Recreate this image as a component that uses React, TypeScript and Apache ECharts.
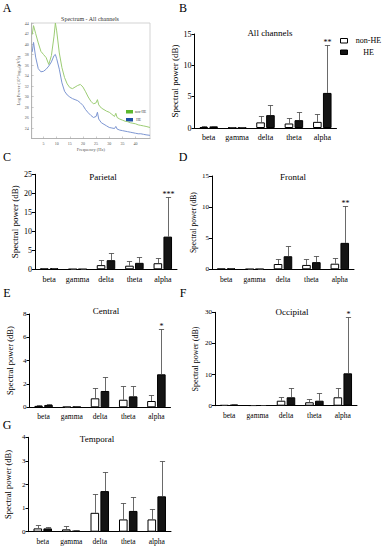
import React, { useEffect, useRef } from 'react';
import * as echarts from 'echarts';

const FONT = 'Liberation Serif, serif';

// ---------- Panel A: spectrum ----------
const freq = [0.7, 1.2, 2, 3, 4, 5, 6, 7, 8, 9, 9.5, 10, 11, 12, 13, 14, 15, 16, 17, 18, 19, 20, 21, 22, 23, 24, 25, 25.5, 26, 27, 28, 29, 30, 31, 32, 32.5, 33, 34, 35, 36, 37, 38, 39, 40, 41, 42, 43, 44, 45.5];
const specNonHE = [41.8, 43.5, 42.0, 40.2, 38.6, 38.0, 37.4, 36.1, 37.8, 41.5, 44.0, 42.5, 38.3, 35.5, 33.6, 32.4, 31.7, 31.5, 31.8, 32.1, 32.3, 31.8, 30.9, 29.9, 29.1, 28.6, 28.8, 29.4, 28.4, 27.8, 27.5, 27.2, 27.0, 26.6, 26.2, 26.8, 26.0, 25.7, 25.5, 25.3, 25.2, 25.0, 24.9, 24.8, 24.6, 24.5, 24.4, 24.3, 24.1];
const specHE = [38.5, 40.3, 37.5, 35.3, 34.7, 34.8, 35.2, 35.8, 36.6, 37.8, 38.0, 37.2, 35.2, 32.6, 31.0, 30.3, 29.9, 29.6, 29.4, 29.2, 28.8, 28.3, 27.5, 26.9, 26.4, 26.0, 26.2, 27.0, 25.7, 25.0, 24.7, 24.4, 24.1, 24.0, 23.9, 24.3, 23.8, 23.6, 23.5, 23.4, 23.3, 23.2, 23.1, 23.0, 22.9, 22.9, 22.8, 22.7, 22.6];
const freqTicks = [5, 10, 15, 20, 25, 30, 35, 40];

// ---------- Bar panels ----------
const bands = ['beta', 'gamma', 'delta', 'theta', 'alpha'];

const allNon = [0.15, 0.05, 0.9, 0.72, 0.98];
const allNonSd = [0.1, 0.03, 1.0, 0.9, 1.3];
const allHe = [0.25, 0.05, 2.05, 1.25, 5.6];
const allHeSd = [0.1, 0.03, 1.7, 1.25, 7.7];
const allStars = ['', '', '', '', '**'];

const parNon = [0.2, 0.05, 1.1, 0.95, 1.6];
const parNonSd = [0.1, 0.03, 1.3, 1.25, 1.5];
const parHe = [0.3, 0.05, 2.4, 1.7, 8.6];
const parHeSd = [0.1, 0.03, 1.8, 1.6, 10.3];
const parStars = ['', '', '', '', '***'];

const froNon = [0.1, 0.04, 0.85, 0.7, 0.9];
const froNonSd = [0.05, 0.02, 0.75, 0.9, 0.85];
const froHe = [0.15, 0.05, 2.1, 1.15, 4.25];
const froHeSd = [0.05, 0.02, 1.7, 1.0, 6.0];
const froStars = ['', '', '', '', '**'];

const cenNon = [0.12, 0.04, 0.77, 0.65, 0.54];
const cenNonSd = [0.06, 0.02, 0.91, 1.17, 0.5];
const cenHe = [0.2, 0.06, 1.4, 0.94, 2.83];
const cenHeSd = [0.1, 0.02, 1.2, 0.88, 3.85];
const cenStars = ['', '', '', '', '*'];

const occNon = [0.2, 0.1, 1.6, 1.1, 2.7];
const occNonSd = [0.1, 0.05, 1.3, 0.95, 2.9];
const occHe = [0.3, 0.12, 2.7, 1.6, 10.4];
const occHeSd = [0.15, 0.05, 2.9, 2.4, 18.2];
const occStars = ['', '', '', '', '*'];

const temNon = [0.14, 0.1, 0.8, 0.52, 0.52];
const temNonSd = [0.14, 0.14, 0.8, 0.71, 0.45];
const temHe = [0.14, 0.04, 1.72, 0.88, 1.5];
const temHeSd = [0.06, 0.02, 0.8, 0.58, 1.5];
const temStars = ['', '', '', '', ''];

type Panel = {
  title: string; non: number[]; nonSd: number[]; he: number[]; heSd: number[]; stars: string[];
  max: number; interval: number; left: number; top: number; width: number; height: number;
  titleX: number; titleY: number; nameGap: number; nameSize: number; tickSize: number; catSize: number; catMargin: number;
};

const panels: Panel[] = [
  { title: 'All channels', non: allNon, nonSd: allNonSd, he: allHe, heSd: allHeSd, stars: allStars, max: 15, interval: 5, left: 194.5, top: 34, width: 142, height: 94, titleX: 270, titleY: 33, nameGap: 11, nameSize: 9, tickSize: 8, catSize: 8, catMargin: 5 },
  { title: 'Parietal', non: parNon, nonSd: parNonSd, he: parHe, heSd: parHeSd, stars: parStars, max: 25, interval: 5, left: 35, top: 174.3, width: 142, height: 95, titleX: 103, titleY: 177, nameGap: 15.5, nameSize: 9, tickSize: 8, catSize: 8, catMargin: 6 },
  { title: 'Frontal', non: froNon, nonSd: froNonSd, he: froHe, heSd: froHeSd, stars: froStars, max: 15, interval: 5, left: 212, top: 176, width: 142, height: 93.3, titleX: 293, titleY: 176.5, nameGap: 15, nameSize: 7.5, tickSize: 7, catSize: 7.5, catMargin: 6 },
  { title: 'Central', non: cenNon, nonSd: cenNonSd, he: cenHe, heSd: cenHeSd, stars: cenStars, max: 8, interval: 2, left: 29.5, top: 314, width: 141, height: 93.3, titleX: 106, titleY: 311, nameGap: 15, nameSize: 8.5, tickSize: 7, catSize: 7.5, catMargin: 5 },
  { title: 'Occipital', non: occNon, nonSd: occNonSd, he: occHe, heSd: occHeSd, stars: occStars, max: 30, interval: 10, left: 215, top: 312.3, width: 142, height: 93.4, titleX: 292, titleY: 312, nameGap: 16, nameSize: 8, tickSize: 7, catSize: 7.5, catMargin: 6 },
  { title: 'Temporal', non: temNon, nonSd: temNonSd, he: temHe, heSd: temHeSd, stars: temStars, max: 4, interval: 1, left: 28.5, top: 437.3, width: 142.5, height: 94.4, titleX: 97, titleY: 438.5, nameGap: 16, nameSize: 8.5, tickSize: 7, catSize: 7.5, catMargin: 6 },
];

const letters = [
  { t: 'A', x: 7, y: 8 }, { t: 'B', x: 183, y: 8 },
  { t: 'C', x: 7, y: 157 }, { t: 'D', x: 183, y: 157 },
  { t: 'E', x: 7, y: 293 }, { t: 'F', x: 183, y: 293 },
  { t: 'G', x: 7, y: 425 },
];

const BAR_W = 8.6;
const BAR_GAP = 0.15;
const OFFSET = (BAR_W * (1 + BAR_GAP)) / 2;

function errSeries(k: number, means: number[], sds: number[], offset: number, stars?: string[]) {
  return {
    type: 'custom',
    xAxisIndex: k,
    yAxisIndex: k,
    z: 5,
    clip: false,
    silent: true,
    data: means.map((m, i) => [i, m, sds[i]]),
    renderItem: (params: any, api: any) => {
      const i = api.value(0);
      const m = api.value(1);
      const s = api.value(2);
      const p0 = api.coord([i, m]);
      const p1 = api.coord([i, m + s]);
      const x = Math.round(p0[0] + offset) + 0.5;
      const yTop = Math.round(p1[1]) + 0.5;
      const children: any[] = [
        { type: 'line', shape: { x1: x, y1: p0[1], x2: x, y2: yTop }, style: { stroke: '#444', lineWidth: 0.8 } },
        { type: 'line', shape: { x1: x - 2.6, y1: yTop, x2: x + 2.6, y2: yTop }, style: { stroke: '#444', lineWidth: 0.8 } },
      ];
      const st = stars ? stars[params.dataIndex] : '';
      if (st) {
        children.push({
          type: 'text',
          x: x,
          y: yTop + 1,
          style: { text: st, fontSize: 8, fontFamily: FONT, fill: '#000', align: 'center', verticalAlign: 'bottom' },
        });
      }
      return { type: 'group', children };
    },
  };
}

function buildOption() {
  const grid: any[] = [{ left: 31.7, top: 23, width: 118.3, height: 115.5, show: true, borderColor: '#c8c8c8', borderWidth: 0.8 }];
  const xAxis: any[] = [{
    type: 'value', gridIndex: 0, min: 0.5, max: 45.5,
    axisLine: { lineStyle: { color: '#aaa', width: 0.8 } },
    axisTick: { inside: true, length: 2, lineStyle: { color: '#aaa', width: 0.6 }, customValues: freqTicks },
    axisLabel: { fontSize: 4, color: '#555', margin: 2.5, fontFamily: FONT, customValues: freqTicks },
    splitLine: { show: false },
    name: 'Frequency (Hz)', nameLocation: 'middle', nameGap: 8.5,
    nameTextStyle: { fontSize: 4.5, color: '#555', fontFamily: FONT },
  }];
  const yAxis: any[] = [{
    type: 'value', gridIndex: 0, min: 22, max: 44, interval: 2,
    axisLine: { lineStyle: { color: '#aaa', width: 0.8 } },
    axisTick: { inside: true, length: 2, lineStyle: { color: '#aaa', width: 0.6 } },
    axisLabel: { fontSize: 4, color: '#555', margin: 3, fontFamily: FONT, showMinLabel: false },
    splitLine: { show: false },
    name: 'Log Power (10*log\u2081\u2080(\u03bcV\u00b2))', nameLocation: 'middle', nameGap: 9,
    nameTextStyle: { fontSize: 4.5, color: '#555', fontFamily: FONT },
  }];
  const series: any[] = [
    {
      type: 'line', name: 'non-HE', xAxisIndex: 0, yAxisIndex: 0, showSymbol: false, silent: true,
      data: freq.map((f, i) => [f, specNonHE[i]]),
      lineStyle: { color: '#9ccc74', width: 1 },
    },
    {
      type: 'line', name: 'HE', xAxisIndex: 0, yAxisIndex: 0, showSymbol: false, silent: true,
      data: freq.map((f, i) => [f, specHE[i]]),
      lineStyle: { color: '#7d96d2', width: 1 },
    },
  ];
  const graphic: any[] = [];

  panels.forEach((p, idx) => {
    const k = idx + 1;
    grid.push({ left: p.left, top: p.top, width: p.width, height: p.height });
    xAxis.push({
      type: 'category', gridIndex: k, data: bands,
      axisLine: { lineStyle: { color: '#000', width: 1 } },
      axisTick: { alignWithLabel: true, length: 3, lineStyle: { color: '#000', width: 1 } },
      axisLabel: { interval: 0, fontSize: p.catSize, color: '#000', fontFamily: FONT, margin: p.catMargin },
    });
    yAxis.push({
      type: 'value', gridIndex: k, min: 0, max: p.max, interval: p.interval,
      splitLine: { show: false },
      axisLine: { show: true, lineStyle: { color: '#000', width: 1 } },
      axisTick: { show: true, length: 3, lineStyle: { color: '#000', width: 1 } },
      axisLabel: { fontSize: p.tickSize, color: '#000', fontFamily: FONT, margin: 3 },
      name: 'Spectral power (dB)', nameLocation: 'middle', nameGap: p.nameGap,
      nameTextStyle: { fontSize: p.nameSize, color: '#000', fontFamily: FONT },
    });
    series.push({
      type: 'bar', name: 'non-HE', xAxisIndex: k, yAxisIndex: k, data: p.non,
      barWidth: BAR_W, barGap: `${BAR_GAP * 100}%`, silent: true,
      itemStyle: { color: '#fff', borderColor: '#000', borderWidth: 1 },
    });
    series.push({
      type: 'bar', name: 'HE', xAxisIndex: k, yAxisIndex: k, data: p.he,
      barWidth: BAR_W, barGap: `${BAR_GAP * 100}%`, silent: true,
      itemStyle: { color: '#141414', borderColor: '#000', borderWidth: 1 },
    });
    series.push(errSeries(k, p.non, p.nonSd, -OFFSET));
    series.push(errSeries(k, p.he, p.heSd, OFFSET, p.stars));
    graphic.push({
      type: 'text', x: p.titleX, y: p.titleY,
      style: { text: p.title, fontSize: 9, fontFamily: FONT, fill: '#000', align: 'center', verticalAlign: 'middle' },
    });
  });

  // Panel A title and legend
  graphic.push({ type: 'text', x: 90, y: 19, style: { text: 'Spectrum - All channels', fontSize: 6, fontFamily: FONT, fill: '#333', align: 'center', verticalAlign: 'middle' } });
  graphic.push({ type: 'rect', shape: { x: 126, y: 110, width: 7, height: 3.5 }, style: { fill: '#5cb82e' } });
  graphic.push({ type: 'text', x: 135, y: 111.8, style: { text: 'non-HE', fontSize: 3.5, fontFamily: FONT, fill: '#333', align: 'left', verticalAlign: 'middle' } });
  graphic.push({ type: 'rect', shape: { x: 126, y: 118, width: 7, height: 3.5 }, style: { fill: '#1d4fa5' } });
  graphic.push({ type: 'text', x: 138.5, y: 119.8, style: { text: 'HE', fontSize: 3.5, fontFamily: FONT, fill: '#333', align: 'center', verticalAlign: 'middle' } });

  // Panel B legend
  graphic.push({ type: 'rect', shape: { x: 340.5, y: 38.5, width: 7, height: 4.5 }, style: { fill: '#fff', stroke: '#000', lineWidth: 1 } });
  graphic.push({ type: 'text', x: 368.5, y: 40.5, style: { text: 'non-HE', fontSize: 8, fontFamily: FONT, fill: '#000', align: 'center', verticalAlign: 'middle' } });
  graphic.push({ type: 'rect', shape: { x: 340.5, y: 50, width: 7, height: 4.5 }, style: { fill: '#141414', stroke: '#000', lineWidth: 1 } });
  graphic.push({ type: 'text', x: 368.5, y: 52.5, style: { text: 'HE', fontSize: 8, fontFamily: FONT, fill: '#000', align: 'center', verticalAlign: 'middle' } });

  letters.forEach((l) => {
    graphic.push({ type: 'text', x: l.x, y: l.y, style: { text: l.t, fontSize: 12, fontFamily: FONT, fill: '#000', align: 'center', verticalAlign: 'middle' } });
  });

  return { animation: false, backgroundColor: '#fff', grid, xAxis, yAxis, series, graphic };
}

export default function App() {
  const ref = useRef<HTMLDivElement>(null);
  useEffect(() => {
    const chart = echarts.init(ref.current as HTMLDivElement, null, { renderer: 'svg' });
    chart.setOption(buildOption() as any);
    return () => chart.dispose();
  }, []);
  return <div ref={ref} style={{ position: 'absolute', left: 0, top: 0, width: 386, height: 550, background: '#fff' }} />;
}
